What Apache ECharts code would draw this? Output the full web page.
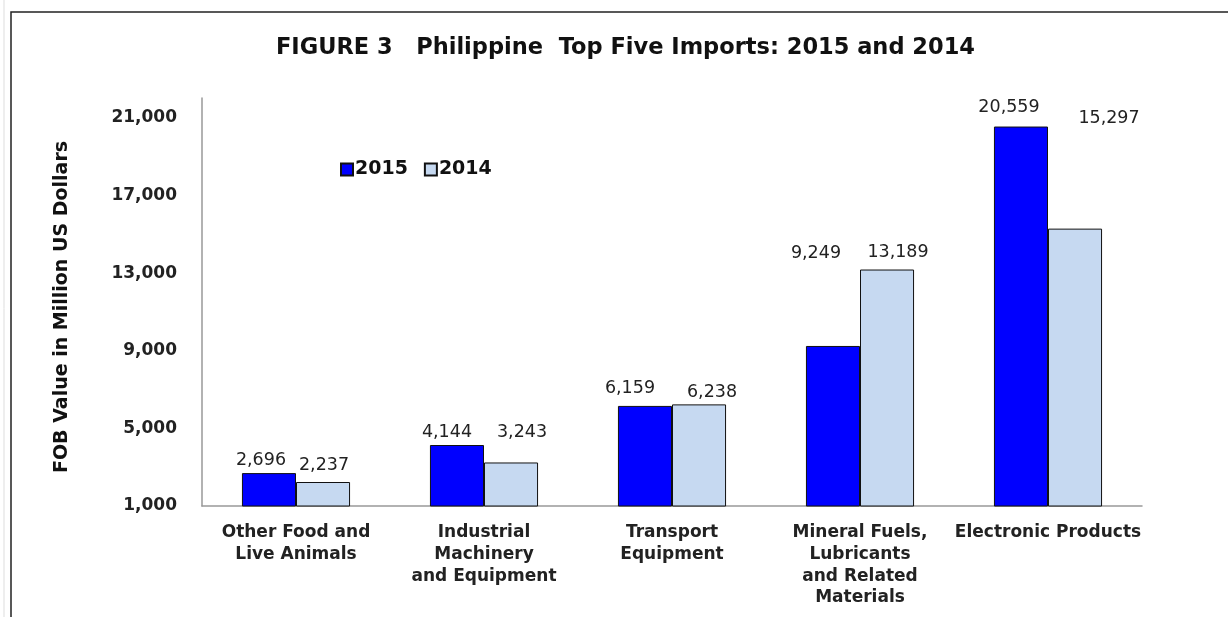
<!DOCTYPE html>
<html>
    <head>
        <meta charset="utf-8">
        <title>FIGURE 3</title>
        <script src="https://cdn.jsdelivr.net/npm/echarts@6/dist/echarts.min.js"></script>
    </head>
    <body style="margin:0;background:#fff;">
        <div id="main" style="width:1228px;height:617px;"></div>
        <script type="text/javascript">
            // data
            var categories = ['Other Food and\nLive Animals', 'Industrial\nMachinery\nand Equipment', 'Transport\nEquipment', 'Mineral Fuels,\nLubricants\nand Related\nMaterials', 'Electronic Products'];
            var values2015 = [2696, 4144, 6159, 9249, 20559];
            var values2014 = [2237, 3243, 6238, 13189, 15297];
            var yTicks = [1000, 5000, 9000, 13000, 17000, 21000];

            // label nudges (Excel had hand-placed labels)
            var off2015 = [[-8, -3], [-10, -3], [-15, -7], [-17, -83], [-12, -9]];
            var off2014 = [[1, -7], [11, -20], [13, -2], [11, -7], [34, -100]];

            function build(vals, offs) {
                return vals.map(function (v, i) {
                    return { value: v, label: { offset: offs[i] } };
                });
            }

            var FONT = 'DejaVu Sans';

            var labelStyle = {
                show: true,
                position: 'top',
                distance: 1,
                color: '#222',
                fontSize: 17.5,
                fontFamily: FONT,
                formatter: function (p) { return p.value.toLocaleString('en-US'); }
            };

            var myChart = echarts.init(document.getElementById('main'));
            myChart.setOption({
                animation: false,
                textStyle: { fontFamily: FONT },
                title: {
                    text: 'FIGURE 3   Philippine  Top Five Imports: 2015 and 2014',
                    left: 271,
                    top: 32,
                    textStyle: { fontSize: 22.5, fontWeight: 'bold', color: '#111', fontFamily: FONT }
                },
                graphic: [
                    { type: 'rect', shape: { x: 11, y: 12, width: 1240, height: 700 }, style: { fill: 'none', stroke: '#222', lineWidth: 1.5 } },
                    { type: 'line', shape: { x1: 4, y1: 0, x2: 4, y2: 617 }, style: { stroke: '#ddd', lineWidth: 1 } }
                ],
                legend: {
                    left: 335,
                    top: 155,
                    icon: 'rect',
                    itemWidth: 12,
                    itemHeight: 12,
                    itemGap: 16,
                    textStyle: { fontSize: 19, fontWeight: 'bold', color: '#111', fontFamily: FONT, padding: [0, 0, 0, -3] },
                    data: ['2015', '2014']
                },
                grid: { left: 202, top: 98, width: 940, height: 408 },
                xAxis: {
                    type: 'category',
                    data: categories,
                    axisLine: { lineStyle: { color: '#999', width: 1.5 } },
                    axisTick: { show: false },
                    axisLabel: { interval: 0, margin: 16, fontSize: 17, fontWeight: 'bold', color: '#222', lineHeight: 21.7, fontFamily: FONT }
                },
                yAxis: {
                    type: 'value',
                    min: yTicks[0],
                    max: 22030,
                    interval: yTicks[1] - yTicks[0],
                    name: 'FOB Value in Million US Dollars',
                    nameLocation: 'middle',
                    nameGap: 130,
                    nameTextStyle: { fontSize: 19, fontWeight: 'bold', color: '#111', fontFamily: FONT, padding: [0, 10, 0, 0] },
                    splitLine: { show: false },
                    axisLine: { show: true, lineStyle: { color: '#999', width: 1.5 } },
                    axisTick: { show: false },
                    axisLabel: {
                        showMaxLabel: false,
                        margin: 25,
                        fontSize: 17,
                        fontWeight: 'bold',
                        color: '#222',
                        fontFamily: FONT,
                        formatter: function (v) { return v.toLocaleString('en-US'); }
                    }
                },
                series: [
                    {
                        name: '2015',
                        type: 'bar',
                        data: build(values2015, off2015),
                        barGap: '0%',
                        barCategoryGap: '42.5%',
                        itemStyle: { color: '#0000FF', borderColor: '#111', borderWidth: 1 },
                        label: labelStyle
                    },
                    {
                        name: '2014',
                        type: 'bar',
                        data: build(values2014, off2014),
                        itemStyle: { color: '#C6D9F1', borderColor: '#111', borderWidth: 1 },
                        label: labelStyle
                    }
                ]
            });
        </script>
    </body>
</html>
